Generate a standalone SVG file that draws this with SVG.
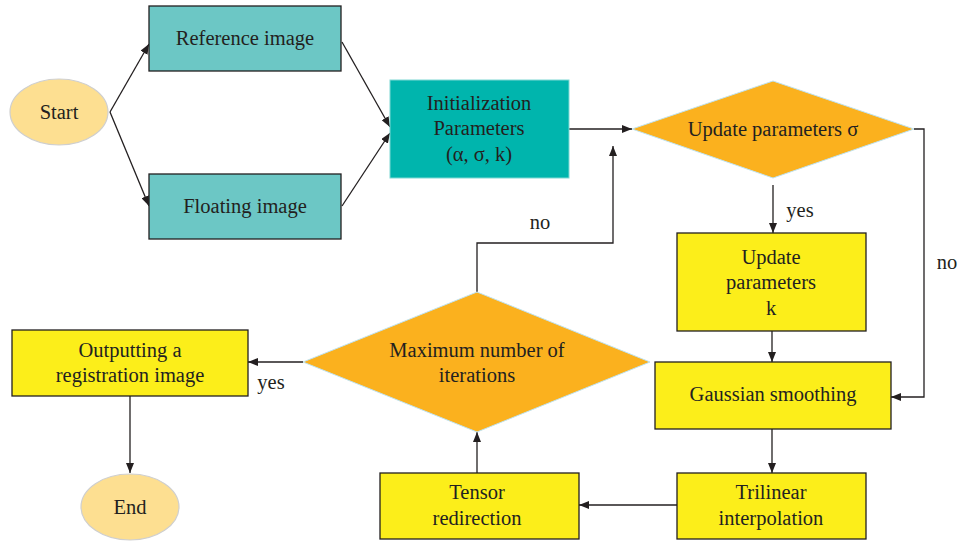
<svg xmlns="http://www.w3.org/2000/svg" width="958" height="541" viewBox="0 0 958 541">
<defs>
<marker id="ah" markerWidth="10" markerHeight="8" refX="10" refY="4" orient="auto" markerUnits="userSpaceOnUse">
<path d="M0,0 L10,4 L0,8 Z" fill="#231f20"/>
</marker>
<style>
text{font-family:"Liberation Serif","DejaVu Serif",serif;font-size:20.5px;fill:#231f20;text-anchor:middle;dominant-baseline:middle}
.c{stroke:#231f20;stroke-width:1.3;fill:none}
.ca{stroke:#231f20;stroke-width:1.3;fill:none;marker-end:url(#ah)}
.ell{fill:#fddf91;stroke:#cfcfcf;stroke-width:1.2}
.t1{fill:#6cc7c5;stroke:#231f20;stroke-width:1.3}
.t2{fill:#00b5ad;stroke:#7fd8d3;stroke-width:1}
.y{fill:#fcee1a;stroke:#231f20;stroke-width:1.3}
.o{fill:#fbb11e;stroke:#bfe3f0;stroke-width:1}
</style>
</defs>
<rect width="958" height="541" fill="#ffffff"/>
<g id="connectors">
<path class="ca" d="M110,112 L149,44"/>
<path class="ca" d="M110,112 L149,206"/>
<path class="ca" d="M342,42 L390,127"/>
<path class="ca" d="M342,206 L390,133"/>
<path class="ca" d="M569,129 L632,129"/>
<path class="ca" d="M773,185 L773,233"/>
<path class="ca" d="M914,129 L924,129 L924,397 L891,397"/>
<path class="ca" d="M772,331 L772,362"/>
<path class="ca" d="M772,429 L772,473"/>
<path class="ca" d="M677,505 L579,505"/>
<path class="ca" d="M477,473 L477,432"/>
<path class="ca" d="M477,292 L477,243 L613,243 L613,146"/>
<path class="ca" d="M303,362 L248,362"/>
<path class="ca" d="M130,396 L130,473"/>
<text x="540" y="224">no</text>
<text x="800" y="212">yes</text>
<text x="947" y="264">no</text>
<text x="271" y="384">yes</text>
</g>
<g id="start"><ellipse class="ell" cx="59" cy="112" rx="49" ry="33"/><text x="59" y="114">Start</text></g>
<g id="reference"><rect class="t1" x="149" y="6" width="192" height="65"/><text x="245" y="40">Reference image</text></g>
<g id="floating"><rect class="t1" x="149" y="174" width="192" height="65"/><text x="245" y="208">Floating image</text></g>
<g id="init"><rect class="t2" x="390" y="80" width="179" height="98"/><text x="479" y="105">Initialization</text><text x="479" y="130">Parameters</text><text x="479" y="156">(α, σ, k)</text></g>
<g id="update-sigma"><path class="o" d="M632,129 L773,81 L914,129 L773,178 Z"/><text x="773" y="131">Update parameters σ</text></g>
<g id="update-k"><rect class="y" x="677" y="233" width="189" height="98"/><text x="771" y="259">Update</text><text x="771" y="284">parameters</text><text x="771" y="310">k</text></g>
<g id="gaussian"><rect class="y" x="655" y="362" width="236" height="67"/><text x="773" y="396">Gaussian smoothing</text></g>
<g id="trilinear"><rect class="y" x="677" y="473" width="189" height="66"/><text x="771" y="494">Trilinear</text><text x="771" y="520">interpolation</text></g>
<g id="tensor"><rect class="y" x="380" y="473" width="199" height="66"/><text x="477" y="494">Tensor</text><text x="477" y="520">redirection</text></g>
<g id="max-iter"><path class="o" d="M303,362 L477,292 L650,362 L477,432 Z"/><text x="477" y="352">Maximum number of</text><text x="477" y="377">iterations</text></g>
<g id="output"><rect class="y" x="12" y="330" width="236" height="66"/><text x="130" y="352">Outputting a</text><text x="130" y="377">registration image</text></g>
<g id="end"><ellipse class="ell" cx="130" cy="507" rx="49" ry="33"/><text x="130" y="509">End</text></g>
</svg>
